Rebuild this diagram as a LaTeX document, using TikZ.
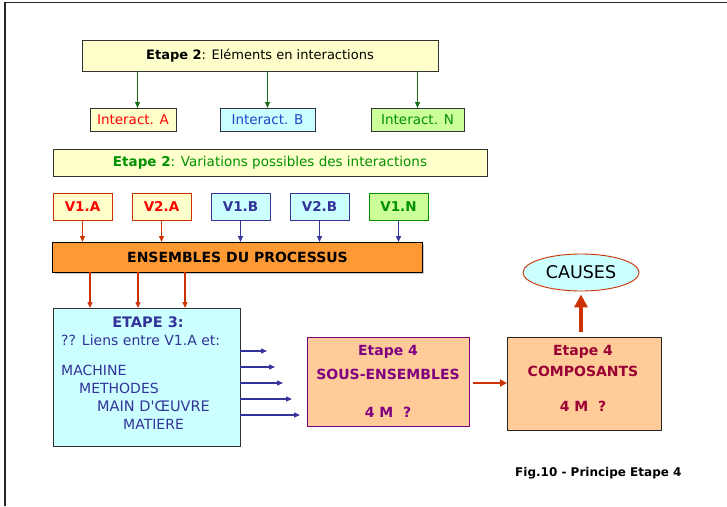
\documentclass[tikz,border=0pt]{standalone}
\usepackage{fontspec}
\setmainfont{DejaVu Sans}
\newfontfamily\nolig{DejaVu Sans}
\usetikzlibrary{arrows.meta,shapes.geometric,calc}
\definecolor{lyellow}{HTML}{FFFFCC}
\definecolor{lcyan}{HTML}{CCFFFF}
\definecolor{lgreen}{HTML}{CCFF99}
\definecolor{dgreen}{HTML}{1A6E1A}
\definecolor{tgreen}{HTML}{009000}
\definecolor{tblue}{HTML}{2244CC}
\definecolor{nblue}{HTML}{333399}
\definecolor{ored}{HTML}{CC3300}
\definecolor{orange}{HTML}{FF9933}
\definecolor{peach}{HTML}{FFCC99}
\definecolor{purp}{HTML}{800080}
\definecolor{dred}{HTML}{990033}
\tikzset{
  box/.style={draw=black!80, line width=0.8pt, inner sep=0pt, outer sep=0pt},
  vbox/.style={box, minimum width=59, minimum height=27, font=\fontsize{13.5}{15}\selectfont\bfseries},
  ibox/.style={box, minimum height=23, font=\fontsize{13.5}{15}\selectfont},
  tip/.style={-{Triangle[length=6pt,width=5pt]}},
  garrow/.style={tip, draw=dgreen, line width=1.3pt},
  rarrow/.style={tip, draw=ored, line width=1.3pt},
  barrow/.style={tip, draw=nblue, line width=1.3pt},
  lbl/.style={inner sep=0pt, anchor=west, text=nblue, font=\fontsize{14}{16}\selectfont},
  t4/.style={inner sep=0pt, font=\fontsize{14}{16}\selectfont\bfseries},
}
\begin{document}
\begin{tikzpicture}[x=1pt,y=-1pt]
\useasboundingbox (0,0) rectangle (727,506);
\draw[line width=1.6pt, black!85] (5,506) -- (5,2.5) -- (727,2.5);

% Etape 2 top
\node[box, fill=lyellow, minimum width=356, minimum height=31, font=\fontsize{13}{15}\selectfont] (e2a) at (260,55.5) {\textbf{Etape 2}: Eléments en interactions};
\node[ibox, fill=lyellow, minimum width=86, text=red] (ia) at (133,119.5) {Interact. A};
\node[ibox, fill=lcyan, minimum width=95, text=tblue] (ib) at (267.5,119.5) {Interact. B};
\node[ibox, fill=lgreen, minimum width=93, text=tgreen] (in) at (417.5,119.5) {Interact. N};
\draw[garrow] ([xshift=4.5pt]ia.north |- e2a.south) -- ([xshift=4.5pt]ia.north);
\foreach \n in {ib,in}{\draw[garrow] (\n.north |- e2a.south) -- (\n.north);}

% Etape 2 variations
\node[box, fill=lyellow, minimum width=434, minimum height=27, text=tgreen, font=\fontsize{13.5}{15}\selectfont] (e2b) at (270,162.5) {\textbf{Etape 2}: Variations possibles des interactions};
\node[vbox, fill=lyellow, draw=ored, text=red] (v1a) at (82.5,206.5) {V1.A};
\node[vbox, fill=lyellow, draw=ored, text=red] (v2a) at (161.5,206.5) {V2.A};
\node[vbox, fill=lcyan, draw=nblue, text=nblue] (v1b) at (240.5,206.5) {V1.B};
\node[vbox, fill=lcyan, draw=nblue, text=nblue] (v2b) at (319.5,206.5) {V2.B};
\node[vbox, fill=lgreen, draw=tgreen, text=tgreen] (v1n) at (398.5,206.5) {V1.N};

% Ensembles
\fill[black!20] (54.5,243.5) rectangle (424,273.5);
\node[box, draw=black, fill=orange, minimum width=370, minimum height=30, font=\fontsize{14}{16}\selectfont\bfseries] (ens) at (237.5,257) {ENSEMBLES DU PROCESSUS};
\foreach \n in {v1a,v2a}{\draw[rarrow] (\n.south) -- (\n.south |- ens.north);}
\foreach \n in {v1b,v2b,v1n}{\draw[barrow] (\n.south) -- (\n.south |- ens.north);}

% Etape 3
\node[box, fill=lcyan, minimum width=187, minimum height=138] (e3) at (146.5,377) {};
\foreach \x in {90,138,185}{\draw[rarrow] (ens.south -| \x,0) -- (e3.north -| \x,0);}
\node[inner sep=0pt, text=nblue, font=\fontsize{14.5}{16}\selectfont\bfseries] (t3) at (148,322) {ETAPE 3:};
\node[lbl] (t3a) at (61,340) {?? Liens entre V1.A et:};
\node[lbl] (t3b) at (61,370) {MACHINE};
\node[lbl] (t3c) at (79,388) {METHODES};
\node[lbl, font=\fontsize{14.5}{16}\selectfont] (t3d) at (97,406) {MAIN D{\nolig '}ŒUVRE};
\node[lbl] (t3e) at (123,424) {MATIERE};
\coordinate (b1) at (267,351);
\coordinate (b2) at (275,367);
\coordinate (b3) at (283,383);
\coordinate (b4) at (292,399);
\coordinate (b5) at (300,415);
\foreach \c in {b1,b2,b3,b4,b5}{\draw[barrow] (e3.east |- \c) -- (\c);}

% Etape 4 sous-ensembles
\node[box, draw=purp, fill=peach, minimum width=162, minimum height=89] (se) at (388,381.5) {};
\node[t4, text=purp] (se1) at (388,352) {Etape 4};
\node[t4, text=purp] (se2) at (388,374) {SOUS-ENSEMBLES};
\node[t4, text=purp] (se3) at (388,412) {4 M\ \ ?};

% Etape 4 composants
\node[box, draw=black!85, fill=peach, minimum width=154, minimum height=93] (co) at (584,383.5) {};
\node[t4, text=dred] (co1) at (583,352) {Etape 4};
\node[t4, text=dred] (co2) at (583,371) {COMPOSANTS};
\node[t4, text=dred] (co3) at (583,406) {4 M\ \ ?};
\draw[draw=ored, line width=2.2pt, -{Triangle[length=7pt,width=7pt]}] ([xshift=4pt]se.east |- 0,383) -- (co.west |- 0,383);

% Causes
\node[ellipse, draw=ored, line width=0.9pt, fill=lcyan, minimum width=116, minimum height=37, inner sep=0pt, font=\fontsize{17.5}{19}\selectfont] (ca) at (581,272.5) {CAUSES};
\draw[draw=ored, line width=3.5pt, -{Triangle[length=13pt,width=13pt]}] ([yshift=5pt]co.north -| 581,0) -- ([yshift=-3pt]ca.south);

% caption
\node[inner sep=0pt, anchor=west, font=\fontsize{12}{14}\selectfont\bfseries] (fig) at (515,473) {Fig.10 - Principe Etape 4};
\end{tikzpicture}
\end{document}
